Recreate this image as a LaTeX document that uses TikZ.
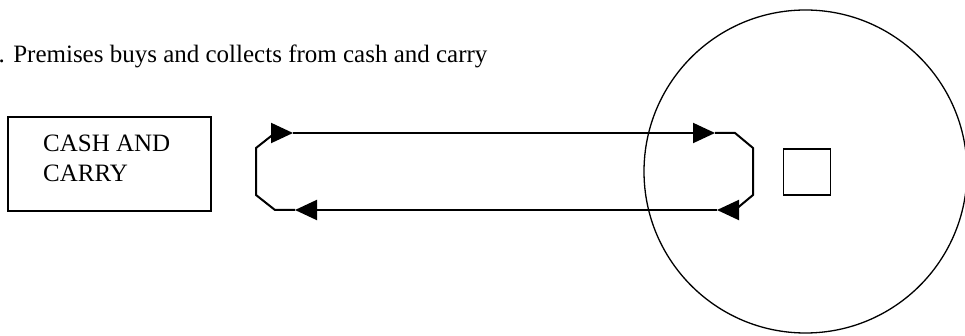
\documentclass[tikz,border=0pt]{standalone}
\usepackage{fontspec}
\setmainfont{Liberation Serif}
\usetikzlibrary{arrows.meta}
\begin{document}
\begin{tikzpicture}[x=1pt,y=-1pt,
  txt/.style={anchor=base west,inner sep=0pt,font=\fontsize{25}{29}\selectfont},
  flow/.style={line width=2pt,-{Triangle[length=22pt,width=20pt]}},
  link/.style={line width=2pt,line join=miter}]
\useasboundingbox (0,0) rectangle (965,336);
% title
\node[txt] (title) at (-1.5,63) {. Premises buys and collects from cash and carry};
% cash and carry box
\draw[line width=2pt] (8,117) rectangle (211,211);
\node[txt] (cc1) at (43,152) {CASH AND};
\node[txt] (cc2) at (43,182) {CARRY};
% premises circle and square
\node[draw,circle,line width=1.3pt,minimum size=323pt,inner sep=0pt] (prem) at (805.5,171.5) {};
\node[draw,line width=1.5pt,minimum width=47pt,minimum height=46pt,inner sep=0pt] (sq) at (807,172) {};
% loop coordinates
\coordinate (tl) at (293,133);
\coordinate (tr) at (715,133);
\coordinate (br) at (717,210);
\coordinate (bl) at (295,210);
\coordinate (r1) at (735,133);
\coordinate (r2) at (753,148);
\coordinate (r3) at (753,195);
\coordinate (r4) at (735,210);
\coordinate (l1) at (275,210);
\coordinate (l2) at (256,195);
\coordinate (l3) at (256,148);
\coordinate (l4) at (275,133);
% connectors
\draw[flow] (tl) -- (tr);
\draw[link] (tr) -- (r1) -- (r2) -- (r3) -- (r4);
\draw[flow] (r4) -- (br);
\draw[flow] (br) -- (bl);
\draw[link] (bl) -- (l1) -- (l2) -- (l3) -- (l4);
\draw[flow] (l4) -- (tl);
\end{tikzpicture}
\end{document}
